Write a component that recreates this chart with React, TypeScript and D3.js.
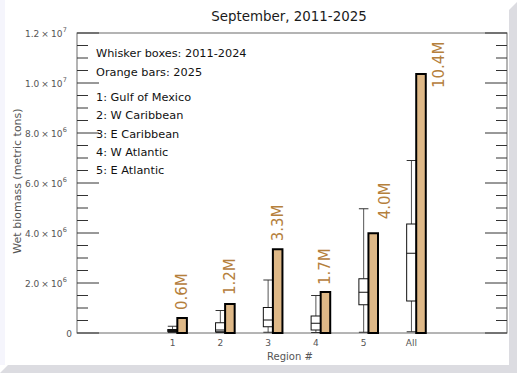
import React from 'react';
import * as d3 from 'd3';

// regions on the x axis
const regions = ['1', '2', '3', '4', '5', 'All'];
// 2025 value per region (metric tons)
const current = [0.6e6, 1.16e6, 3.35e6, 1.64e6, 3.99e6, 10.36e6];
const currentLabels = ['0.6M', '1.2M', '3.3M', '1.7M', '4.0M', '10.4M'];
// 2011-2024 box stats
const whiskLo = [0.02e6, 0.02e6, 0.03e6, 0.02e6, 0.03e6, 0.05e6];
const q1 = [0.06e6, 0.05e6, 0.25e6, 0.12e6, 1.13e6, 1.28e6];
const median = [0.1e6, 0.12e6, 0.52e6, 0.39e6, 1.63e6, 3.19e6];
const q3 = [0.14e6, 0.41e6, 1.02e6, 0.68e6, 2.17e6, 4.36e6];
const whiskHi = [0.27e6, 0.9e6, 2.12e6, 1.5e6, 4.97e6, 6.9e6];

const majorTicks = [0, 2e6, 4e6, 6e6, 8e6, 10e6, 12e6];
const tickMantissa = ['0', '2.0', '4.0', '6.0', '8.0', '1.0', '1.2'];
const tickExp = ['', '6', '6', '6', '6', '7', '7'];
const legendHead = ['Whisker boxes: 2011-2024', 'Orange bars: 2025'];
const legendRegions = ['1: Gulf of Mexico', '2: W Caribbean', '3: E Caribbean', '4: W Atlantic', '5: E Atlantic'];

const W = 517, H = 373;
const plot = { left: 77, right: 507, top: 33, bottom: 333 };
const font = 'DejaVu Sans, sans-serif';
const labelColor = '#b5803c';

// label placement tweaks (px): shift right, gap above bar top
const labelDx = [0, 0, 0, 0, 12, 18];
const labelGap = [8, 9, 8, 7, 14, -14];

export default function App() {
  const x = d3.scaleLinear().domain([-1, 8]).range([plot.left, plot.right]);
  const y = d3.scaleLinear().domain([0, 1.2e7]).range([plot.bottom, plot.top]);
  const minorTicks = d3.range(0, 1.2e7 + 1, 5e5);
  const u = x(1) - x(0);

  return (
    <svg width={W} height={H} style={{ position: 'absolute', left: 0, top: 0 }} fontFamily={font}>
      {/* card with shadow */}
      <rect x={0} y={0} width={W} height={H} fill="#ffffff" />
      <rect x={0} y={0} width={5} height={365} fill="#f5f5fc" />
      <polygon points="509,10 517,2 517,373 509,373" fill="#dcdce1" />
      <polygon points="8,365 509,365 517,373 0,373" fill="#dcdce1" />

      <text x={(plot.left + plot.right) / 2 - 3} y={21} textAnchor="middle" fontSize={13.4} fill="#1a1a1a">September, 2011-2025</text>

      {/* spines */}
      <rect x={plot.left} y={plot.top} width={plot.right - plot.left} height={plot.bottom - plot.top} fill="none" stroke="#6a6a6a" strokeWidth={1} />

      {/* ticks */}
      {minorTicks.map((t, i) => {
        const len = i % 4 === 0 ? 22 : 11;
        return (
          <g key={'mt' + i} stroke="#333" strokeWidth={1}>
            <line x1={plot.left} x2={plot.left + len} y1={y(t)} y2={y(t)} />
            <line x1={plot.right} x2={plot.right - len} y1={y(t)} y2={y(t)} />
          </g>
        );
      })}
      {majorTicks.map((t, i) => (
        <text key={'tl' + i} x={tickExp[i] ? 67 : 72} y={y(t) + 3.5} textAnchor="end" fontSize={9} fill="#555">
          {tickMantissa[i]}
          {tickExp[i] ? <tspan dx={2}>×</tspan> : null}
          {tickExp[i] ? <tspan dx={2}>10</tspan> : null}
          {tickExp[i] ? <tspan dx={0.5} dy={-4.5} fontSize={6.5}>{tickExp[i]}</tspan> : null}
        </text>
      ))}
      {regions.map((r, i) => (
        <text key={'xl' + i} x={x(i + 1)} y={346} textAnchor="middle" fontSize={9} fill="#555">{r}</text>
      ))}
      <text x={290} y={360} textAnchor="middle" fontSize={10} fill="#555">Region #</text>
      <text transform={`translate(21,${181}) rotate(-90)`} textAnchor="middle" fontSize={11} fill="#555">Wet biomass (metric tons)</text>

      {/* legend text */}
      {legendHead.map((l, i) => (
        <text key={'lh' + i} x={96} y={57 + i * 19} fontSize={11.3} fill="#111">{l}</text>
      ))}
      {legendRegions.map((l, i) => (
        <text key={'lr' + i} x={96} y={101 + i * 18.3} fontSize={11.3} fill="#111">{l}</text>
      ))}

      {/* boxes */}
      {regions.map((r, i) => {
        const cx = x(i + 1);
        const hw = u * 0.1;
        return (
          <g key={'bx' + i}>
            <line x1={cx} x2={cx} y1={y(whiskLo[i])} y2={y(q1[i])} stroke="#555" />
            <line x1={cx} x2={cx} y1={y(q3[i])} y2={y(whiskHi[i])} stroke="#555" />
            <line x1={cx - hw} x2={cx + hw} y1={y(whiskLo[i])} y2={y(whiskLo[i])} stroke="#333" />
            <line x1={cx - hw} x2={cx + hw} y1={y(whiskHi[i])} y2={y(whiskHi[i])} stroke="#333" />
            <rect x={cx - hw} y={y(q3[i])} width={2 * hw} height={y(q1[i]) - y(q3[i])} fill="#fff" stroke="#111" />
            <line x1={cx - hw} x2={cx + hw} y1={y(median[i])} y2={y(median[i])} stroke="#111" />
          </g>
        );
      })}

      {/* 2025 bars */}
      {regions.map((r, i) => {
        const x0 = x(i + 1.1);
        const x1 = x(i + 1.3);
        return (
          <g key={'br' + i}>
            <rect x={x0} y={y(current[i])} width={x1 - x0} height={y(0) - y(current[i])} fill="#deb887" stroke="#000" strokeWidth={2} />
            <text transform={`translate(${(x0 + x1) / 2 + labelDx[i] + 5},${y(current[i]) - labelGap[i]}) rotate(-90)`} fontSize={15} fill={labelColor}>{currentLabels[i]}</text>
          </g>
        );
      })}
    </svg>
  );
}
